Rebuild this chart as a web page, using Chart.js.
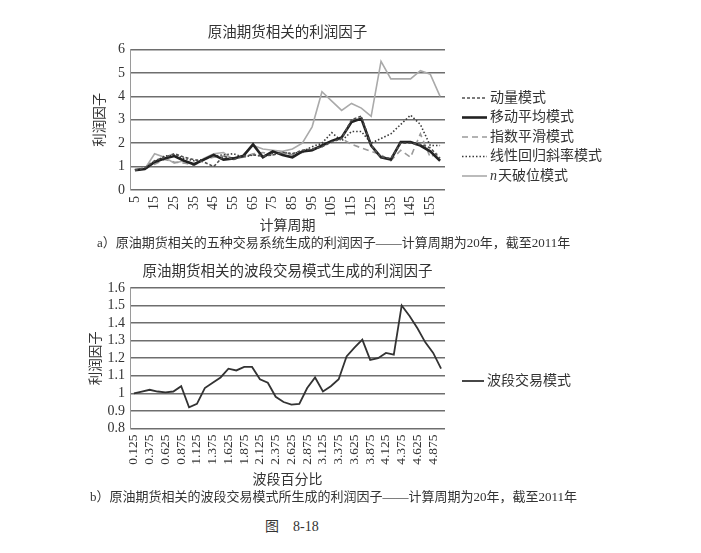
<!DOCTYPE html>
<html>
<head>
<meta charset="utf-8">
<script src="https://cdn.jsdelivr.net/npm/chart.js@4.4.0/dist/chart.umd.min.js"></script>
<style>
  body {
    margin: 0;
    background: #fff;
    width: 701px;
    height: 553px;
    position: relative;
    overflow: hidden;
    font-family: "Liberation Serif", "Noto Sans CJK SC", serif;
    color: #333;
  }
  canvas { position: absolute; left: 0; }
  #profitChart { top: 0; }
  #swingChart { top: 240px; }
  .caption { position: absolute; font-size: 13px; line-height: 18px; white-space: nowrap; }
</style>
</head>
<body>
<canvas id="profitChart" width="701" height="240"></canvas>
<canvas id="swingChart" width="701" height="252"></canvas>
<div class="caption" style="left:97px; top:234px;">a）原油期货相关的五种交易系统生成的利润因子——计算周期为20年，截至2011年</div>
<div class="caption" style="left:90px; top:488px;">b）原油期货相关的波段交易模式所生成的利润因子——计算周期为20年，截至2011年</div>
<div class="caption" style="left:265px; top:518px; font-size:14px;">图&nbsp;&nbsp;&nbsp;&nbsp;8-18</div>

<script>
// chart a) - calculation periods and profit factors per system
const periods = [5, 10, 15, 20, 25, 30, 35, 40, 45, 50, 55, 60, 65, 70, 75, 80,
                 85, 90, 95, 100, 105, 110, 115, 120, 125, 130, 135, 140, 145, 150, 155, 160];
const momentum = [0.85, 0.95, 1.25, 1.4, 1.55, 1.4, 1.3, 1.2, 1.0, 1.45, 1.3, 1.45, 1.5, 1.45, 1.5, 1.6,
                  1.55, 1.7, 1.75, 1.85, 2.05, 2.2, 3.0, 3.15, 1.9, 1.4, 1.35, 2.0, 2.0, 1.95, 1.8, 1.35];
const movingAvg = [0.85, 0.9, 1.2, 1.35, 1.45, 1.25, 1.1, 1.3, 1.5, 1.3, 1.35, 1.45, 1.95, 1.4, 1.65, 1.5,
                   1.4, 1.65, 1.7, 1.9, 2.1, 2.25, 2.9, 3.05, 1.9, 1.4, 1.3, 2.05, 2.05, 1.9, 1.65, 1.25];
const expSmooth = [0.85, 0.9, 1.1, 1.3, 1.2, 1.15, 1.05, 1.3, 1.4, 1.45, 1.35, 1.4, 1.55, 1.6, 1.5, 1.6,
                   1.5, 1.6, 1.7, 1.85, 2.1, 2.2, 1.95, 1.8, 1.65, 1.5, 1.25, 1.7, 1.4, 2.4, 1.4, 1.65];
const linRegSlope = [0.85, 0.9, 1.2, 1.45, 1.5, 1.35, 1.25, 1.3, 1.45, 1.5, 1.55, 1.4, 1.5, 1.45, 1.55, 1.6,
                     1.55, 1.65, 1.85, 2.0, 2.45, 2.1, 2.5, 2.5, 2.0, 2.2, 2.4, 2.8, 3.2, 2.8, 1.9, 1.9];
const breakout = [0.85, 0.9, 1.55, 1.4, 1.15, 1.25, 1.1, 1.35, 1.55, 1.6, 1.3, 1.5, 1.9, 1.75, 1.7, 1.65,
                  1.75, 2.0, 2.7, 4.2, 3.8, 3.4, 3.7, 3.5, 3.15, 5.5, 4.75, 4.75, 4.75, 5.1, 4.95, 4.0];

// chart b) - swing percentage and profit factor
const swingPct = ['0.125', '0.25', '0.375', '0.5', '0.625', '0.75', '0.875', '1', '1.125', '1.25',
                  '1.375', '1.5', '1.625', '1.75', '1.875', '2', '2.125', '2.25', '2.375', '2.5',
                  '2.625', '2.75', '2.875', '3', '3.125', '3.25', '3.375', '3.5', '3.625', '3.75',
                  '3.875', '4', '4.125', '4.25', '4.375', '4.5', '4.625', '4.75', '4.875', '5'];
const swingProfit = [1.0, 1.01, 1.02, 1.01, 1.005, 1.01, 1.04, 0.92, 0.94, 1.03,
                     1.06, 1.09, 1.14, 1.13, 1.15, 1.15, 1.08, 1.06, 0.98, 0.95,
                     0.935, 0.94, 1.03, 1.09, 1.01, 1.04, 1.08, 1.21, 1.26, 1.305,
                     1.19, 1.2, 1.23, 1.22, 1.5, 1.44, 1.37, 1.29, 1.23, 1.14];

const FONT = '"Liberation Serif", "Noto Sans CJK SC", serif';
Chart.defaults.font.family = FONT;
Chart.defaults.color = '#333';
Chart.defaults.animation = false;

// legend drawn beside the plot, like the book figure
const sideLegend = {
    id: 'sideLegend',
    afterDraw(chart, args, opts) {
        const ctx = chart.ctx;
        ctx.save();
        ctx.font = '14px ' + FONT;
        ctx.textBaseline = 'middle';
        chart.data.datasets.forEach((ds, i) => {
            const y = opts.top + i * opts.gap;
            ctx.beginPath();
            ctx.setLineDash(ds.borderDash || []);
            ctx.lineWidth = ds.borderWidth;
            ctx.strokeStyle = ds.borderColor;
            ctx.moveTo(opts.left, y);
            ctx.lineTo(opts.left + opts.lineLen, y);
            ctx.stroke();
            ctx.setLineDash([]);
            ctx.fillStyle = '#333';
            let x = opts.left + opts.lineLen + 3;
            let text = ds.label;
            if (text.charAt(0) === 'n') {
                ctx.font = 'italic 14px ' + FONT;
                ctx.fillText('n', x, y);
                x += ctx.measureText('n').width + 1;
                ctx.font = '14px ' + FONT;
                text = text.slice(1);
            }
            ctx.fillText(text, x, y);
        });
        ctx.restore();
    }
};

function lineSet(label, data, color, width, dash) {
    return {
        label: label,
        data: data,
        borderColor: color,
        borderWidth: width,
        borderDash: dash,
        pointRadius: 0,
        tension: 0,
        fill: false
    };
}

function baseOptions(cfg) {
    return {
        responsive: false,
        layout: { padding: cfg.padding },
        plugins: {
            legend: { display: false },
            tooltip: { enabled: false },
            title: {
                display: true,
                text: cfg.title,
                fullSize: false,
                color: '#333',
                font: { size: 14.5, weight: 'normal' },
                padding: cfg.titlePad
            },
            sideLegend: cfg.legend
        },
        scales: {
            x: {
                offset: true,
                grid: { display: false, drawTicks: false },
                border: { display: false },
                ticks: {
                    autoSkip: false,
                    minRotation: 90,
                    maxRotation: 90,
                    padding: 6,
                    color: '#333',
                    font: { size: cfg.xTickSize },
                    callback: function(value, index) {
                        return index % 2 === 0 ? this.getLabelForValue(value) : '';
                    }
                },
                title: {
                    display: true,
                    text: cfg.xTitle,
                    color: '#333',
                    font: { size: 14 },
                    padding: 0
                },
                afterFit: scale => { scale.height = cfg.xHeight; }
            },
            y: {
                min: cfg.yMin,
                max: cfg.yMax,
                grid: { color: '#6e6e6e', lineWidth: 1.5, drawTicks: false },
                border: { display: true, color: '#9a9a9a', width: 1 },
                ticks: {
                    stepSize: cfg.yStep,
                    autoSkip: false,
                    padding: 5,
                    color: '#333',
                    font: { size: 14, lineHeight: 1 },
                    callback: v => String(Number(v.toFixed(1)))
                },
                title: {
                    display: true,
                    text: '利润因子',
                    color: '#333',
                    font: { size: 13.5 },
                    padding: 0
                },
                afterFit: scale => { scale.width = cfg.yWidth; }
            }
        }
    };
}

new Chart(document.getElementById('profitChart'), {
    type: 'line',
    data: {
        labels: periods,
        datasets: [
            lineSet('动量模式', momentum, '#505050', 1.6, [3, 2]),
            lineSet('移动平均模式', movingAvg, '#222', 2.6, []),
            lineSet('指数平滑模式', expSmooth, '#9a9a9a', 1.6, [6, 4]),
            lineSet('线性回归斜率模式', linRegSlope, '#3a3a3a', 1.6, [1.5, 2]),
            lineSet('n天破位模式', breakout, '#aaaaaa', 1.6, [])
        ]
    },
    options: baseOptions({
        padding: { left: 92, right: 256, top: 0, bottom: 5 },
        title: '原油期货相关的利润因子',
        titlePad: { top: 24.6, bottom: 7.6 },
        xTitle: '计算周期',
        xTickSize: 14,
        xHeight: 45,
        yMin: 0, yMax: 6, yStep: 1, yWidth: 38,
        legend: { left: 462, top: 98, gap: 19.5, lineLen: 25 }
    }),
    plugins: [sideLegend]
});

new Chart(document.getElementById('swingChart'), {
    type: 'line',
    data: {
        labels: swingPct.map(s => Number(s).toFixed(3)),
        datasets: [
            lineSet('波段交易模式', swingProfit, '#333', 1.8, [])
        ]
    },
    options: baseOptions({
        padding: { left: 88, right: 256, top: 0, bottom: 3.6 },
        title: '原油期货相关的波段交易模式生成的利润因子',
        titlePad: { top: 23.6, bottom: 6.9 },
        xTitle: '波段百分比',
        xTickSize: 13.5,
        xHeight: 60,
        yMin: 0.8, yMax: 1.6, yStep: 0.1, yWidth: 42,
        legend: { left: 462, top: 141, gap: 20, lineLen: 22 }
    }),
    plugins: [sideLegend]
});
</script>
</body>
</html>
